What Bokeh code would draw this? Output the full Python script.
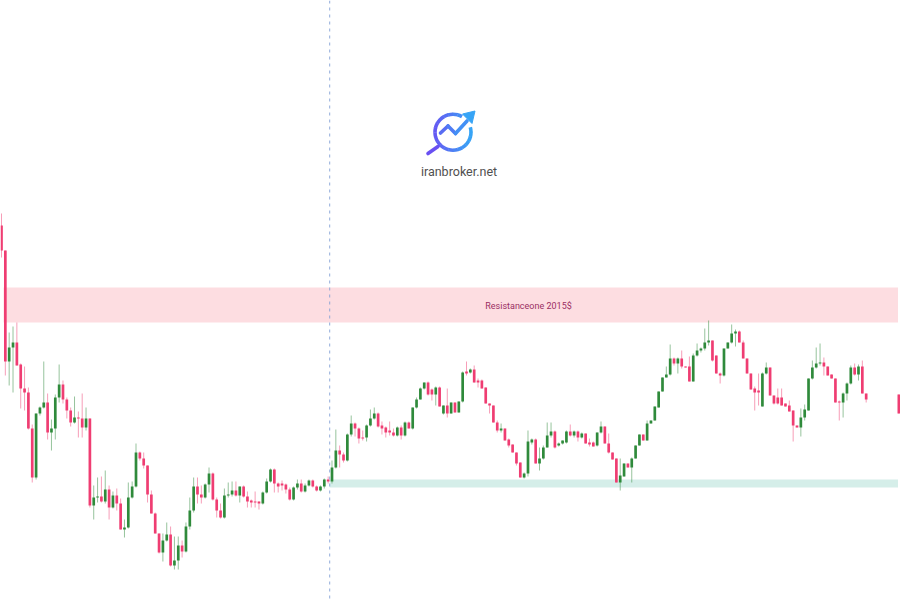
import math
from bokeh.plotting import figure
from bokeh.models import Range1d, BoxAnnotation, Span, ColumnDataSource
from bokeh.core.properties import value
from bokeh.embed import file_html
from bokeh.resources import INLINE

# ---------------- data ----------------
open_ = [
    2095, 2070, 1959, 1973, 1978, 1956, 1932, 1928, 1892, 1843,
    1907, 1913, 1918, 1888, 1892, 1923, 1936, 1921, 1910, 1898,
    1903, 1902, 1893, 1902, 1815, 1823, 1824, 1819, 1831, 1813,
    1825, 1817, 1791, 1793, 1823, 1834, 1868, 1862, 1855, 1826,
    1807, 1787, 1768, 1780, 1786, 1755, 1760, 1775, 1769, 1794,
    1810, 1834, 1826, 1823, 1836, 1847, 1821, 1810, 1803, 1825,
    1826, 1830, 1825, 1834, 1824, 1820, 1819, 1819, 1817, 1828,
    1839, 1851, 1837, 1837, 1836, 1831, 1821, 1833, 1837, 1829,
    1835, 1840, 1834, 1830, 1834, 1841, 1839, 1853, 1870, 1866,
    1860, 1886, 1897, 1892, 1883, 1883, 1895, 1902, 1907, 1895,
    1893, 1890, 1888, 1885, 1893, 1885, 1898, 1892, 1913, 1921,
    1932, 1938, 1931, 1926, 1933, 1907, 1915, 1907, 1918, 1908,
    1919, 1949, 1948, 1951, 1940, 1940, 1933, 1917, 1915, 1898,
    1890, 1892, 1881, 1876, 1868, 1858, 1843, 1847, 1878, 1881,
    1857, 1862, 1873, 1885, 1889, 1875, 1877, 1878, 1889, 1885,
    1889, 1883, 1887, 1878, 1878, 1875, 1888, 1894, 1877, 1868,
    1862, 1838, 1844, 1857, 1853, 1862, 1875, 1886, 1880, 1897,
    1900, 1913, 1929, 1943, 1946, 1962, 1957, 1962, 1954, 1954,
    1939, 1965, 1970, 1972, 1978, 1980, 1965, 1947, 1945, 1972,
    1978, 1987, 1989, 1978, 1962, 1947, 1932, 1930, 1914, 1947,
    1953, 1925, 1923, 1923, 1917, 1915, 1910, 1895, 1893, 1903,
    1910, 1942, 1953, 1957, 1958, 1954, 1946, 1942, 1919, 1918,
    1927, 1937, 1953, 1946, 1954, 1927, 1926,
]
high = [
    2107, 2070, 1988, 1994, 1998, 1957, 1954, 1933, 1896, 1907,
    1914, 1959, 1927, 1901, 1926, 1956, 1940, 1923, 1913, 1924,
    1909, 1927, 1913, 1902, 1835, 1843, 1844, 1850, 1835, 1829,
    1832, 1822, 1801, 1838, 1839, 1877, 1869, 1868, 1855, 1830,
    1808, 1787, 1787, 1798, 1794, 1784, 1784, 1780, 1798, 1823,
    1843, 1843, 1835, 1837, 1853, 1848, 1823, 1817, 1832, 1838,
    1839, 1839, 1834, 1835, 1829, 1821, 1829, 1819, 1829, 1842,
    1852, 1852, 1838, 1840, 1837, 1833, 1834, 1841, 1841, 1837,
    1841, 1841, 1835, 1835, 1842, 1844, 1860, 1891, 1875, 1868,
    1887, 1905, 1898, 1893, 1890, 1896, 1911, 1913, 1908, 1899,
    1894, 1899, 1892, 1894, 1895, 1899, 1899, 1913, 1923, 1933,
    1938, 1939, 1932, 1934, 1934, 1915, 1932, 1918, 1918, 1919,
    1949, 1959, 1952, 1955, 1942, 1941, 1933, 1917, 1915, 1900,
    1897, 1892, 1882, 1876, 1868, 1858, 1848, 1890, 1882, 1882,
    1873, 1875, 1898, 1898, 1890, 1878, 1880, 1890, 1896, 1890,
    1890, 1888, 1887, 1882, 1879, 1888, 1899, 1894, 1887, 1868,
    1862, 1862, 1857, 1857, 1863, 1875, 1886, 1886, 1900, 1900,
    1914, 1929, 1943, 1954, 1976, 1963, 1963, 1970, 1954, 1964,
    1967, 1977, 1973, 1992, 2000, 1980, 1965, 1948, 1972, 1978,
    1996, 1991, 1990, 1980, 1962, 1947, 1934, 1947, 1948, 1958,
    1953, 1925, 1932, 1932, 1917, 1920, 1910, 1895, 1912, 1916,
    1942, 1960, 1973, 1977, 1963, 1954, 1946, 1942, 1920, 1928,
    1938, 1955, 1957, 1956, 1960, 1927, 1926,
]
low = [
    2063, 1945, 1935, 1928, 1955, 1912, 1910, 1891, 1838, 1841,
    1905, 1912, 1881, 1870, 1881, 1918, 1917, 1902, 1894, 1897,
    1883, 1883, 1890, 1813, 1801, 1818, 1818, 1817, 1801, 1812,
    1810, 1791, 1783, 1792, 1822, 1833, 1860, 1852, 1818, 1807,
    1787, 1767, 1759, 1779, 1754, 1751, 1751, 1763, 1768, 1791,
    1808, 1817, 1817, 1822, 1828, 1820, 1803, 1802, 1802, 1823,
    1824, 1824, 1818, 1823, 1813, 1813, 1813, 1811, 1816, 1827,
    1838, 1828, 1828, 1830, 1827, 1820, 1820, 1831, 1828, 1828,
    1834, 1833, 1829, 1829, 1832, 1837, 1837, 1852, 1853, 1858,
    1859, 1884, 1884, 1877, 1880, 1879, 1894, 1901, 1893, 1886,
    1883, 1885, 1884, 1884, 1881, 1884, 1892, 1891, 1912, 1921,
    1931, 1925, 1920, 1915, 1914, 1906, 1903, 1907, 1908, 1908,
    1918, 1945, 1947, 1938, 1933, 1932, 1917, 1907, 1898, 1888,
    1888, 1880, 1873, 1868, 1855, 1843, 1842, 1844, 1876, 1857,
    1850, 1861, 1873, 1883, 1872, 1874, 1876, 1877, 1884, 1883,
    1879, 1882, 1877, 1874, 1874, 1874, 1887, 1877, 1867, 1861,
    1838, 1830, 1844, 1853, 1838, 1862, 1875, 1880, 1880, 1897,
    1900, 1913, 1929, 1943, 1945, 1955, 1947, 1952, 1953, 1939,
    1939, 1964, 1968, 1970, 1975, 1959, 1947, 1937, 1944, 1972,
    1977, 1974, 1978, 1962, 1947, 1931, 1910, 1915, 1914, 1946,
    1925, 1916, 1916, 1915, 1914, 1909, 1879, 1893, 1884, 1900,
    1910, 1941, 1952, 1955, 1945, 1945, 1942, 1918, 1900, 1903,
    1920, 1936, 1945, 1940, 1927, 1918, 1907,
]
close = [
    2070, 1959, 1973, 1978, 1955, 1932, 1928, 1892, 1843, 1907,
    1913, 1918, 1888, 1892, 1923, 1936, 1921, 1910, 1898, 1903,
    1902, 1893, 1902, 1815, 1823, 1824, 1819, 1831, 1813, 1825,
    1817, 1791, 1793, 1823, 1834, 1868, 1862, 1855, 1826, 1807,
    1787, 1768, 1780, 1786, 1755, 1760, 1775, 1769, 1794, 1810,
    1834, 1826, 1823, 1836, 1847, 1821, 1810, 1803, 1825, 1826,
    1830, 1825, 1834, 1824, 1819, 1818, 1818, 1817, 1828, 1839,
    1851, 1837, 1834, 1835, 1831, 1821, 1833, 1837, 1829, 1835,
    1840, 1834, 1830, 1834, 1841, 1839, 1853, 1870, 1866, 1860,
    1886, 1897, 1892, 1882, 1882, 1895, 1902, 1907, 1894, 1892,
    1888, 1888, 1885, 1893, 1885, 1898, 1892, 1913, 1921, 1932,
    1938, 1926, 1926, 1933, 1914, 1915, 1907, 1918, 1908, 1919,
    1948, 1947, 1951, 1938, 1938, 1932, 1917, 1915, 1898, 1890,
    1892, 1880, 1875, 1868, 1857, 1843, 1847, 1879, 1881, 1857,
    1862, 1873, 1885, 1889, 1873, 1877, 1880, 1889, 1885, 1889,
    1883, 1887, 1877, 1876, 1874, 1888, 1894, 1877, 1868, 1861,
    1838, 1845, 1857, 1853, 1862, 1875, 1886, 1880, 1897, 1900,
    1914, 1929, 1943, 1946, 1962, 1957, 1962, 1954, 1953, 1939,
    1965, 1970, 1972, 1978, 1980, 1960, 1947, 1945, 1972, 1978,
    1987, 1989, 1978, 1962, 1947, 1931, 1928, 1928, 1947, 1953,
    1925, 1917, 1917, 1915, 1914, 1909, 1895, 1893, 1903, 1911,
    1942, 1953, 1957, 1958, 1954, 1945, 1942, 1918, 1918, 1927,
    1937, 1953, 1946, 1954, 1927, 1921, 1907,
]
bar_index = list(range(226)) + [233.5]

resistance_label = "Resistanceone 2015$"
resistance_low, resistance_high = 1998, 2033
support_low, support_high = 1833, 1841
split_bar = 85.4
brand_text = "iranbroker.net"

# ---------------- layout ----------------
W, H = 900, 600
OFF = 0
PX_PER_BAR = 3.843
BAR0_PX = 1.0
PRICE_AT_Y0 = 2320.0    # price = PRICE_AT_Y0 - pixel_y


def bx(X):
    return (X - BAR0_PX) / PX_PER_BAR


def py(Y):
    return PRICE_AT_Y0 - Y


BULL = "#2f8a3b"
BEAR = "#ef3d72"

p = figure(width=W, height=H,
           x_range=Range1d(bx(OFF), bx(OFF + W)),
           y_range=Range1d(py(OFF + H), py(OFF)),
           toolbar_location=None, output_backend="svg",
           x_axis_location=None, y_axis_location=None, min_border=0)
p.grid.visible = False
p.outline_line_color = None
p.background_fill_color = "white"
p.border_fill_color = "white"

# bands
p.add_layout(BoxAnnotation(left=bx(3), right=bx(897.5),
                           bottom=resistance_low, top=resistance_high,
                           fill_color="#fddde1", fill_alpha=1.0,
                           line_color=None, level="underlay"))
p.add_layout(BoxAnnotation(left=split_bar, right=bx(897.5),
                           bottom=support_low, top=support_high,
                           fill_color="#d5eee9", fill_alpha=1.0,
                           line_color=None, level="underlay"))
p.add_layout(Span(location=split_bar, dimension="height", line_color="#7f9dd4",
                  line_alpha=0.85, line_width=1, line_dash="3 4"))

# candles
bottoms, tops, colors = [], [], []
for o, c in zip(open_, close):
    b = min(o, c)
    t = max(o, c)
    if t - b < 1:
        t = b + 1
    bottoms.append(b)
    tops.append(t)
    colors.append(BULL if c >= o else BEAR)

src = ColumnDataSource(dict(x=bar_index, high=high, low=low,
                            top=tops, bottom=bottoms, color=colors))
p.segment(x0="x", y0="high", x1="x", y1="low", source=src,
          line_color="color", line_alpha=0.5, line_width=1)
p.vbar(x="x", width=0.7, top="top", bottom="bottom", source=src,
       fill_color="color", line_color=None)

p.text(x=[bx(528)], y=[py(305)], text=[resistance_label],
       text_align="center", text_baseline="middle",
       text_font=value("Roboto"), text_font_size="9px", text_color="#9b2f63")

# logo
c_left = (108, 76, 242)
c_right = (50, 172, 246)


def grad(X):
    t = min(1.0, max(0.0, (X - 428) / (474 - 428)))
    r, g, b = [round(a + (bb - a) * t) for a, bb in zip(c_left, c_right)]
    return f"#{r:02x}{g:02x}{b:02x}"


cxp, cyp, rp = 452.5, 131.7, 18.0
for a0 in range(60, 375, 15):
    a1 = a0 + 16
    mid = math.radians((a0 + a1) / 2)
    Xm = cxp + rp * math.cos(mid)
    p.arc(x=bx(cxp), y=py(cyp), radius=rp, radius_units="screen",
          start_angle=math.radians(a0), end_angle=math.radians(a1),
          line_color=grad(Xm), line_width=3.6)

zig = [(440.0, 132.5), (447.5, 125.5), (455.0, 133.0), (466.5, 120.5)]
for (xa, ya), (xb_, yb) in zip(zig[:-1], zig[1:]):
    p.segment(x0=[bx(xa)], y0=[py(ya)], x1=[bx(xb_)], y1=[py(yb)],
              line_color=grad((xa + xb_) / 2), line_width=3.6, line_cap="round")
arrow = [(474.5, 110.5), (462.0, 113.5), (471.5, 123.0)]
p.patch(x=[bx(a) for a, _ in arrow], y=[py(b) for _, b in arrow],
        fill_color=grad(470), line_color=grad(470), line_width=1)
p.segment(x0=[bx(437.5)], y0=[py(146.0)], x1=[bx(427.5)], y1=[py(153.0)],
          line_color=grad(430), line_width=3.6, line_cap="round")

p.text(x=[bx(458.5)], y=[py(170.5)], text=[brand_text],
       text_align="center", text_baseline="middle",
       text_font=value("Roboto"), text_font_size="12.5px", text_color="#505050")

open("out.html", "w").write(file_html(p, INLINE, title="chart"))
